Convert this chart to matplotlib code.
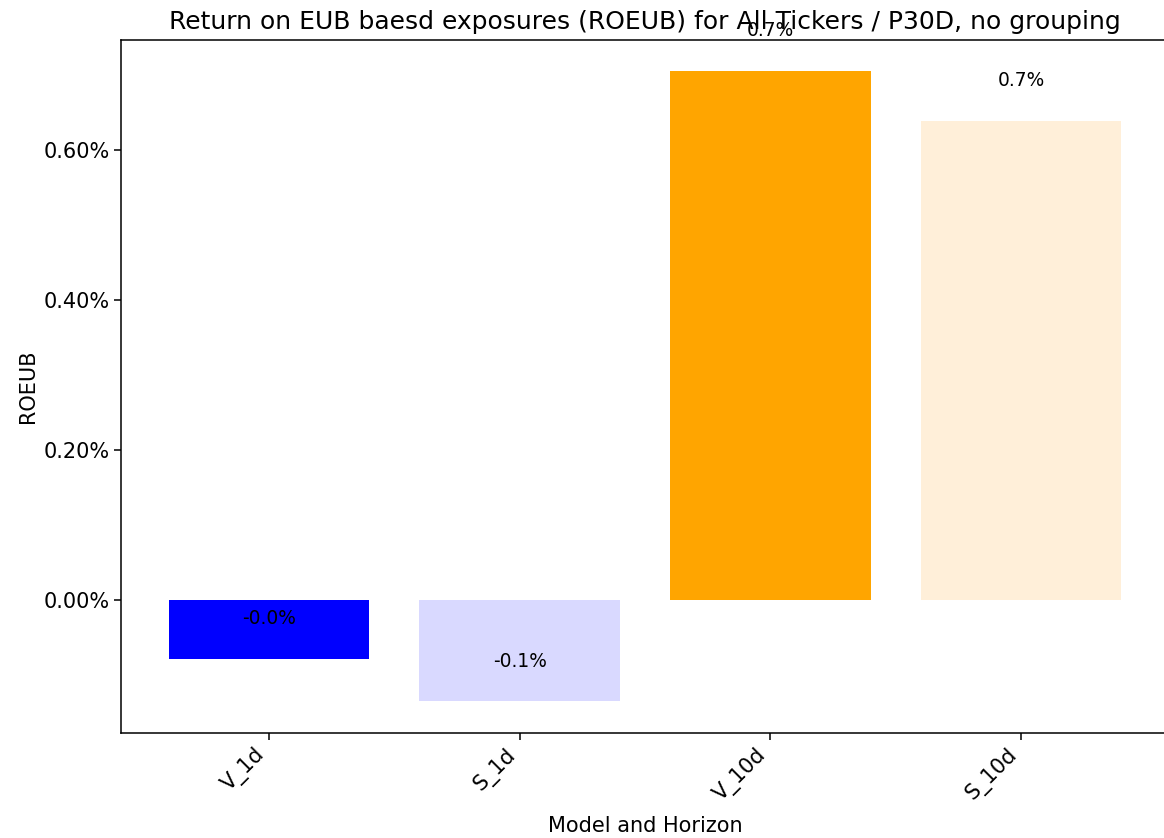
import matplotlib
matplotlib.use("Agg")
import matplotlib.pyplot as plt
from matplotlib.ticker import PercentFormatter

names = ["V_1d", "S_1d", "V_10d", "S_10d"]
roeub = [-0.000787, -0.00135, 0.007053, 0.006387]
bar_labels = ["-0.0%", "-0.1%", "0.7%", "0.7%"]
colors = ["#0000ff", "#d9d9ff", "#ffa500", "#ffefd9"]

fig = plt.figure(figsize=(11.64, 8.38), dpi=100)
ax = fig.add_axes([0.104, 0.1253, 0.9003, 0.827])

x = range(len(names))
ax.bar(x, roeub, color=colors, width=0.8)

for i, v in enumerate(roeub):
    ax.text(i, v + 0.00054, bar_labels[i], ha="center", va="center", fontsize=13.4)

ax.set_xticks(list(x))
ax.set_xticklabels(names, rotation=45, ha="right", fontsize=15)
ax.yaxis.set_major_formatter(PercentFormatter(xmax=1, decimals=2))
ax.tick_params(axis="y", labelsize=15)
ax.tick_params(length=4.7, width=1.1)
ax.set_xlabel("Model and Horizon", fontsize=15, labelpad=8)
ax.set_ylabel("ROEUB", fontsize=15)
ax.set_title("Return on EUB baesd exposures (ROEUB) for All Tickers / P30D, no grouping",
             fontsize=18, pad=8)
ax.spines["right"].set_visible(False)
for s in ["left", "bottom", "top"]:
    ax.spines[s].set_linewidth(1.1)

fig.savefig("out.png", dpi=100)
